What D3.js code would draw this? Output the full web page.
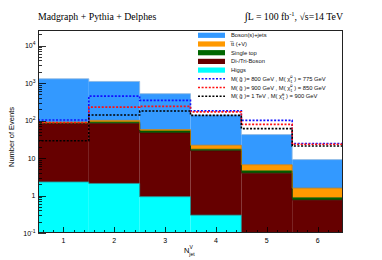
<!DOCTYPE html>
<html><head><meta charset="utf-8">
<script src="https://cdn.jsdelivr.net/npm/d3@7"></script>
<style>
html,body{margin:0;padding:0;background:#fff;}
svg{display:block;}
text{font-family:"Liberation Sans",Arial,Helvetica,sans-serif;}
</style></head>
<body>
<svg id="c" width="382" height="260"></svg>
<script>
// ---- data ----
const bins = [1, 2, 3, 4, 5, 6];
const higgs     = [2.3, 2.1, 0.93, 0.30, 0, 0];
const diboson   = [80.5, 80.7, 45.7, 15.2, 3.94, 0.755];
const singleTop = [3, 8, 6, 1.6, 0.6, 0.115];
const ttV       = [4, 10, 4.7, 4.8, 2.06, 0.7];
const bosonJets = [1210, 1003, 462, 118, 35.6, 7.5];
const sig800  = [103, 449, 344, 181, 101, 24.3];
const sig900  = [88, 228, 239, 170, 79, 23.3];
const sig1000 = [29, 140, 179, 137, 61, 21];
const bkgNames = ["Boson(s)+jets", "t\u0305t\u0305 (+V)", "Single top", "Di-/Tri-Boson", "Higgs"];
const sigNames = ["800", "900", "1000"];
const xTickLabels = ["1", "2", "3", "4", "5", "6"];
const yTickLabels = [["10","-1"], ["1",""], ["10",""], ["10","2"], ["10","3"], ["10","4"]];

// ---- layout ----
const L = 38, R = 343, T = 30, B = 233;
const svg = d3.select("#c");
const x = d3.scaleLinear().domain([0.5, 6.5]).range([L, R]);
const y = d3.scaleLog().domain([0.1, 26000]).range([B, T]).clamp(true);
const yv = v => y(Math.max(v, 0.01));

const layers = [
  {key: "higgs", vals: higgs, fill: "#00ffff", line: "#1a8f8f"},
  {key: "diboson", vals: diboson, fill: "#660000", line: "#4a0000"},
  {key: "singleTop", vals: singleTop, fill: "#006600", line: "#004d00"},
  {key: "ttV", vals: ttV, fill: "#ff9900", line: "#cc7a00"},
  {key: "bosonJets", vals: bosonJets, fill: "#3399ff", line: "#8fb8e0"}
];
const table = bins.map((b, i) => {
  const o = {bin: b};
  layers.forEach(l => o[l.key] = l.vals[i]);
  return o;
});
const stack = d3.stack().keys(layers.map(l => l.key))(table);

const plot = svg.append("g");
plot.append("defs").append("clipPath").attr("id", "clip")
  .append("rect").attr("x", L).attr("y", T).attr("width", R - L).attr("height", B - T);
const g = plot.append("g").attr("clip-path", "url(#clip)");

stack.forEach((s, li) => {
  const lay = layers[li];
  g.selectAll(null).data(s).enter().append("rect")
    .attr("x", d => x(d.data.bin - 0.5))
    .attr("width", d => x(d.data.bin + 0.5) - x(d.data.bin - 0.5))
    .attr("y", d => yv(d[1]))
    .attr("height", d => Math.max(0, yv(d[0]) - yv(d[1])))
    .attr("fill", lay.fill);
});
// outlines (step) of each stacked layer
stack.forEach((s, li) => {
  const lay = layers[li];
  let p = "";
  s.forEach((d, i) => {
    const x0 = x(d.data.bin - 0.5), x1 = x(d.data.bin + 0.5), yy = yv(d[1]);
    p += (i === 0 ? "M" + x0 + "," + B + "L" + x0 + "," + yy : "L" + x0 + "," + yy) + "L" + x1 + "," + yy;
  });
  g.append("path").attr("d", p).attr("fill", "none").attr("stroke", lay.line).attr("stroke-width", 0.8);
});

// signal dashed step histograms
const sigs = [
  {vals: sig800, color: "#1010ff"},
  {vals: sig900, color: "#ff1010"},
  {vals: sig1000, color: "#000000"}
];
sigs.forEach(sg => {
  let p = "";
  bins.forEach((b, i) => {
    const x0 = x(b - 0.5), x1 = x(b + 0.5), yy = yv(sg.vals[i]);
    p += (i === 0 ? "M" + x0 + "," + yy : "L" + x0 + "," + yy) + "L" + x1 + "," + yy;
  });
  g.append("path").attr("d", p).attr("fill", "none").attr("stroke", sg.color)
    .attr("stroke-width", 1.6).attr("stroke-dasharray", "2,1.6");
});

// ---- axes ----
const ax = svg.append("g").attr("stroke", "#000");
// y ticks (log)
const yt = y.ticks();
yt.forEach(v => {
  const major = Math.abs(Math.log10(v) - Math.round(Math.log10(v))) < 1e-6;
  const yy = Math.round(y(v)) + 0.5;
  ax.append("line").attr("x1", L).attr("x2", L + (major ? 8 : 4)).attr("y1", yy).attr("y2", yy).attr("stroke-width", 0.8);
});
// x ticks
const xt = d3.range(0.6, 6.5, 0.2);
xt.forEach(v => {
  const major = Math.abs(v - Math.round(v)) < 1e-6;
  const xx = Math.round(x(v)) + 0.5;
  ax.append("line").attr("x1", xx).attr("x2", xx).attr("y1", B).attr("y2", B - (major ? 6 : 3)).attr("stroke-width", 0.8);
});
// frame
svg.append("rect").attr("x", L + 0.5).attr("y", T + 0.5).attr("width", R - L - 1).attr("height", B - T - 1)
  .attr("fill", "none").attr("stroke", "#222").attr("stroke-width", 1);

// y tick labels
const yLabVals = [0.1, 1, 10, 100, 1000, 10000];
yLabVals.forEach((v, i) => {
  const t = svg.append("text").attr("x", 35.5).attr("y", y(v) + 2.5).attr("text-anchor", "end")
    .attr("font-size", 7).attr("fill", "#000");
  const lab = yTickLabels[i];
  t.append("tspan").text(lab[0]);
  if (lab[1]) t.append("tspan").attr("font-size", 5).attr("dy", -3).text(lab[1]);
});
// x tick labels
bins.forEach((b, i) => {
  svg.append("text").attr("x", x(b)).attr("y", 243).attr("text-anchor", "middle")
    .attr("font-size", 7).text(xTickLabels[i]);
});

// axis titles
svg.append("text").attr("transform", "translate(14,137) rotate(-90)").attr("text-anchor", "middle")
  .attr("font-size", 7.5).text("Number of Events");
const xtitle = svg.append("text").attr("x", 184).attr("y", 253).attr("font-size", 7.5);
xtitle.append("tspan").text("N");
xtitle.append("tspan").attr("font-size", 5).attr("dy", -4).text("V");
xtitle.append("tspan").attr("font-size", 5).attr("dx", -3.5).attr("dy", 6.5).text("jet");

// header
const hdr = svg.append("g").style("font-family", "'Liberation Serif','Times New Roman',serif");
hdr.append("text").attr("x", 38).attr("y", 19.5).attr("font-size", 9.8)
  .style("font-family", "'Liberation Serif','Times New Roman',serif").text("Madgraph + Pythia + Delphes");
const rt = hdr.append("text").attr("x", 343).attr("y", 19.5).attr("text-anchor", "end").attr("font-size", 9.8)
  .style("font-family", "'Liberation Serif','Times New Roman',serif");
rt.append("tspan").attr("font-size", 11).text("\u222B");
rt.append("tspan").text("L = 100 fb");
rt.append("tspan").attr("font-size", 6.5).attr("dy", -4).text("-1");
rt.append("tspan").attr("dy", 4).text(",  \u221As=14 TeV");

// legend
const leg = svg.append("g");
const rowY = [35.3, 44, 52.7, 61.4, 70.1, 78.8, 87.5, 96.2];
const legFill = ["#3399ff", "#ff9900", "#006600", "#660000", "#00ffff"];
bkgNames.forEach((n, i) => {
  leg.append("rect").attr("x", 198).attr("y", rowY[i] - 2.6).attr("width", 27).attr("height", 5.2).attr("fill", legFill[i]);
  leg.append("text").attr("x", 231).attr("y", rowY[i] + 2).attr("font-size", 5.8).attr("fill", "#111")
    .text(i === 1 ? "t\u0305t (+V)" : n);
});
const sigText = [
  ["800 GeV", "775 GeV"],
  ["900 GeV", "850 GeV"],
  ["1 TeV", "900 GeV"]
];
sigs.forEach((sg, k) => {
  const yy = rowY[5 + k];
  leg.append("line").attr("x1", 198).attr("x2", 225).attr("y1", yy).attr("y2", yy)
    .attr("stroke", sg.color).attr("stroke-width", 1.6).attr("stroke-dasharray", "2,1.6");
  const t = leg.append("text").attr("x", 231).attr("y", yy + 2).attr("font-size", 5.8).attr("fill", "#111");
  t.append("tspan").text("M( g\u0303 )= " + sigText[k][0] + " ,  M( \u03C7\u0303");
  t.append("tspan").attr("font-size", 4).attr("dy", -2.5).text("0");
  t.append("tspan").attr("font-size", 4).attr("dx", -2.2).attr("dy", 4.5).text("1");
  t.append("tspan").attr("dy", -2).text(" ) = " + sigText[k][1]);
});
</script>
</body></html>
